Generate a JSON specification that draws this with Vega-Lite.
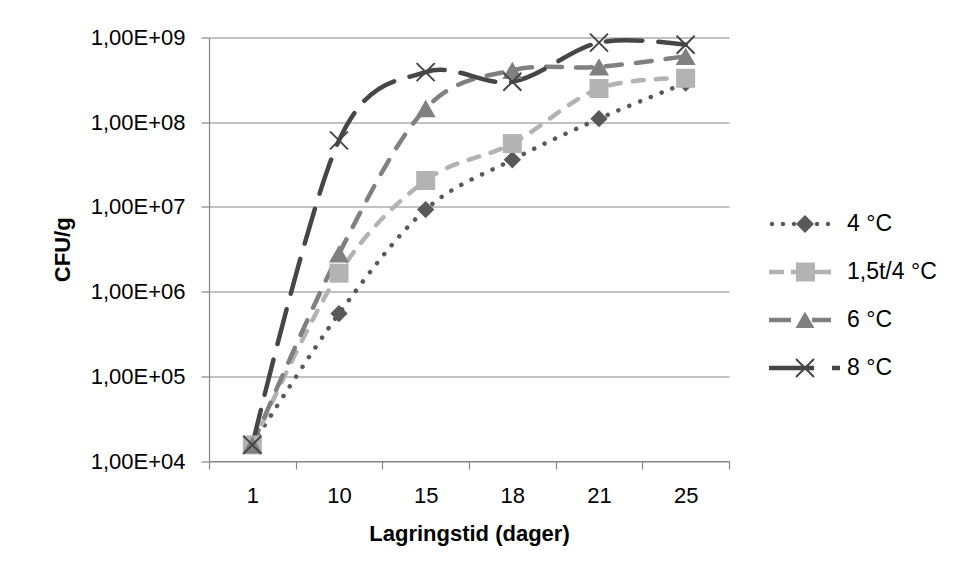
{
  "$schema": "https://vega.github.io/schema/vega-lite/v6.json",
  "width": 520,
  "height": 423.5,
  "autosize": {"type": "none"},
  "padding": {"left": 209, "top": 37.5, "right": 228, "bottom": 116},
  "background": "white",
  "config": {
    "view": {"stroke": null},
    "font": "Liberation Sans",
    "axis": {
      "domainColor": "#868686",
      "tickColor": "#868686",
      "gridColor": "#868686",
      "domainWidth": 1.2,
      "tickWidth": 1.2,
      "gridWidth": 1.2,
      "tickSize": 8,
      "labelColor": "#000000",
      "titleColor": "#000000",
      "labelFont": "Liberation Sans",
      "titleFont": "Liberation Sans",
      "labelFontSize": 22,
      "titleFontSize": 22,
      "titleFontWeight": "bold"
    }
  },
  "data": {
    "values": [
      {"day": 1, "series": "4 °C", "cfu": 15500},
      {"day": 10, "series": "4 °C", "cfu": 550000},
      {"day": 15, "series": "4 °C", "cfu": 9300000},
      {"day": 18, "series": "4 °C", "cfu": 36000000},
      {"day": 21, "series": "4 °C", "cfu": 110000000},
      {"day": 25, "series": "4 °C", "cfu": 290000000},
      {"day": 1, "series": "1,5t/4 °C", "cfu": 15500},
      {"day": 10, "series": "1,5t/4 °C", "cfu": 1650000},
      {"day": 15, "series": "1,5t/4 °C", "cfu": 20500000},
      {"day": 18, "series": "1,5t/4 °C", "cfu": 56000000},
      {"day": 21, "series": "1,5t/4 °C", "cfu": 250000000},
      {"day": 25, "series": "1,5t/4 °C", "cfu": 330000000},
      {"day": 1, "series": "6 °C", "cfu": 15500},
      {"day": 10, "series": "6 °C", "cfu": 2800000},
      {"day": 15, "series": "6 °C", "cfu": 145000000},
      {"day": 18, "series": "6 °C", "cfu": 410000000},
      {"day": 21, "series": "6 °C", "cfu": 450000000},
      {"day": 25, "series": "6 °C", "cfu": 600000000},
      {"day": 1, "series": "8 °C", "cfu": 15500},
      {"day": 10, "series": "8 °C", "cfu": 61000000},
      {"day": 15, "series": "8 °C", "cfu": 390000000},
      {"day": 18, "series": "8 °C", "cfu": 300000000},
      {"day": 21, "series": "8 °C", "cfu": 870000000},
      {"day": 25, "series": "8 °C", "cfu": 820000000}
    ]
  },
  "encoding": {
    "x": {
      "field": "day",
      "type": "ordinal",
      "sort": [1, 10, 15, 18, 21, 25],
      "bandPosition": 0.5,
      "scale": {"type": "band", "paddingInner": 0, "paddingOuter": 0},
      "axis": {
        "orient": "bottom",
        "title": "Lagringstid (dager)",
        "labelAngle": 0,
        "tickBand": "extent",
        "labelPadding": 16,
        "titlePadding": 17,
        "grid": false
      }
    },
    "y": {
      "field": "cfu",
      "type": "quantitative",
      "scale": {"type": "log", "domain": [10000, 1000000000], "nice": false},
      "axis": {
        "orient": "left",
        "title": "CFU/g",
        "values": [10000, 100000, 1000000, 10000000, 100000000, 1000000000],
        "labelExpr": "'1,00E+0' + round(log(datum.value) / LN10)",
        "grid": true,
        "labelPadding": 16,
        "titlePadding": 16
      }
    }
  },
  "layer": [
    {
      "mark": {"type": "line", "interpolate": "cardinal", "strokeWidth": 4.5, "strokeCap": "round"},
      "encoding": {
        "color": {
          "field": "series",
          "type": "nominal",
          "scale": {"range": ["#b3b3b3", "#595959", "#808080", "#464646"]},
          "legend": null
        },
        "strokeDash": {
          "field": "series",
          "type": "nominal",
          "scale": {"range": [[11, 12], [0.1, 11.5], [16, 14], [36, 16]]},
          "legend": null
        }
      }
    },
    {
      "transform": [{"filter": "datum.series === '4 °C'"}],
      "mark": {"type": "point", "shape": "diamond", "size": 300, "filled": true, "opacity": 1, "color": "#595959"}
    },
    {
      "transform": [{"filter": "datum.series === '1,5t/4 °C'"}],
      "mark": {"type": "point", "shape": "square", "size": 361, "filled": true, "opacity": 1, "color": "#b3b3b3"}
    },
    {
      "transform": [{"filter": "datum.series === '6 °C'"}],
      "mark": {"type": "point", "shape": "triangle-up", "size": 400, "filled": true, "opacity": 1, "color": "#808080"}
    },
    {
      "transform": [{"filter": "datum.series === '8 °C'"}],
      "mark": {"type": "point", "shape": "M-1,-1L1,1M-1,1L1,-1", "size": 324, "filled": false, "strokeWidth": 2, "opacity": 1, "color": "#464646"}
    },
    {
      "description": "Legend keys: line style plus marker for each series, drawn as filled glyphs",
      "transform": [{"filter": "datum.day === 0"}],
      "mark": {"type": "point", "filled": true, "opacity": 1, "size": 4096, "strokeWidth": 0},
      "encoding": {
        "shape": {
          "field": "series",
          "type": "nominal",
          "scale": {
            "domain": ["4 °C", "1,5t/4 °C", "6 °C", "8 °C"],
            "range": [
              "M-0.945,0a0.0703,0.0703 0 1,1 0.1406,0a0.0703,0.0703 0 1,1 -0.1406,0ZM-0.602,0a0.0703,0.0703 0 1,1 0.1406,0a0.0703,0.0703 0 1,1 -0.1406,0ZM-0.258,0a0.0703,0.0703 0 1,1 0.1406,0a0.0703,0.0703 0 1,1 -0.1406,0ZM0.461,0a0.0703,0.0703 0 1,1 0.1406,0a0.0703,0.0703 0 1,1 -0.1406,0ZM0.805,0a0.0703,0.0703 0 1,1 0.1406,0a0.0703,0.0703 0 1,1 -0.1406,0ZM-0.125,0L0.156,-0.281L0.438,0L0.156,0.281Z",
              "M-0.969,-0.07H-0.5V0.07H-0.969ZM-0.281,-0.07H0.969V0.07H-0.281ZM-0.125,-0.297H0.469V0.297H-0.125Z",
              "M-0.969,-0.07H-0.281V0.07H-0.969ZM0.375,-0.07H0.969V0.07H0.375ZM0.156,-0.266L0.453,0.25L-0.141,0.25Z",
              "M-0.969,-0.07H0.438V0.07H-0.969ZM1.0,-0.07H1.25V0.07H1.0ZM-0.103,-0.303L0.46,0.259L0.416,0.303L-0.147,-0.259ZM-0.147,0.259L0.416,-0.303L0.46,-0.259L-0.103,0.303Z"
            ]
          },
          "legend": {
            "title": null, "orient": "none", "legendX": 559, "legendY": 154.5, "direction": "vertical",
            "padding": 0, "labelFontSize": 23, "labelFont": "Liberation Sans", "labelColor": "#000000",
            "labelOffset": 15, "rowPadding": 4, "symbolSize": 4096, "symbolStrokeWidth": 0
          }
        },
        "fill": {
          "field": "series",
          "type": "nominal",
          "scale": {
            "domain": ["4 °C", "1,5t/4 °C", "6 °C", "8 °C"],
            "range": ["#595959", "#b3b3b3", "#808080", "#464646"]
          },
          "legend": {
            "title": null, "orient": "none", "legendX": 559, "legendY": 154.5, "direction": "vertical",
            "padding": 0, "labelFontSize": 23, "labelFont": "Liberation Sans", "labelColor": "#000000",
            "labelOffset": 15, "rowPadding": 4, "symbolSize": 4096, "symbolStrokeWidth": 0
          }
        }
      }
    }
  ]
}
